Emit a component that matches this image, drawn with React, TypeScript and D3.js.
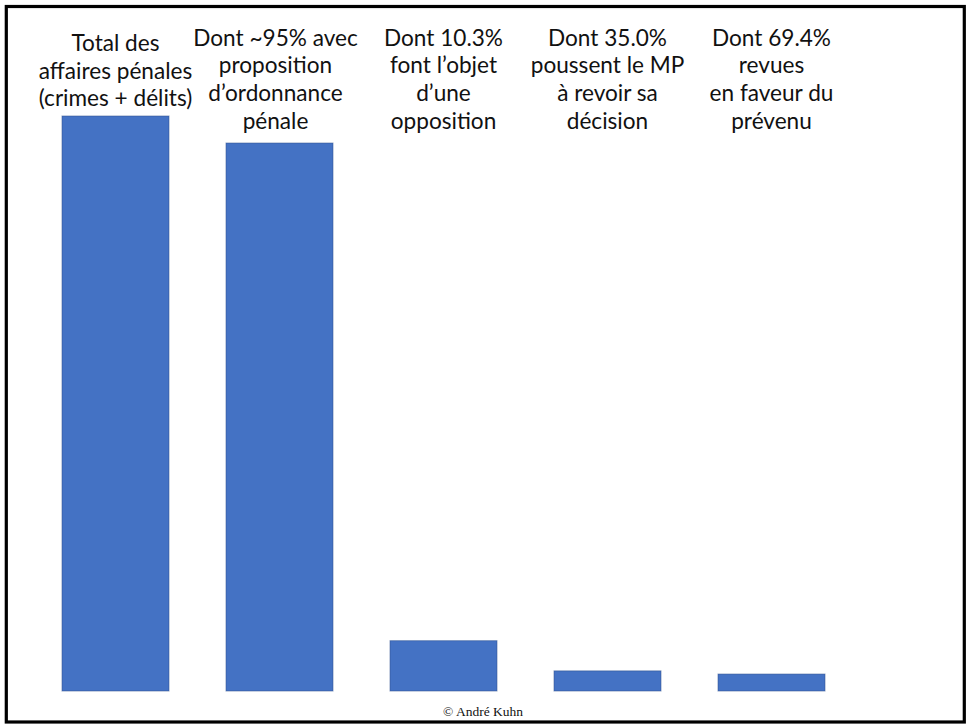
import React from "react";
import * as d3 from "d3";

// Successive filters of criminal cases (relative scale, total = 100)
const categories = ["total", "ordonnance", "opposition", "revision", "faveur"];
const values = [100, 95.3, 8.75, 3.5, 2.95];
const labels: string[][] = [
  ["Total des", "affaires pénales", "(crimes + délits)"],
  ["Dont ~95% avec", "proposition", "d’ordonnance", "pénale"],
  ["Dont 10.3%", "font l’objet", "d’une", "opposition"],
  ["Dont 35.0%", "poussent le MP", "à revoir sa", "décision"],
  ["Dont 69.4%", "revues", "en faveur du", "prévenu"],
];
const credit = "© André Kuhn";

const W = 967;
const H = 725;

export default function App() {
  const x = d3
    .scaleBand<string>()
    .domain(categories)
    .range([62, 825])
    .paddingInner(0.3476)
    .paddingOuter(0);

  const y = d3.scaleLinear().domain([0, 100]).range([691, 116]);

  const lineH = 27.7;
  const firstBaseline = 45.5;

  return (
    <svg
      width={W}
      height={H}
      viewBox={`0 0 ${W} ${H}`}
      style={{ position: "absolute", left: 0, top: 0, background: "#fff" }}
    >
      <rect x={0} y={0} width={W} height={H} fill="#fff" />
      <rect
        x={6.3}
        y={6.5}
        width={958}
        height={715.5}
        fill="none"
        stroke="#000"
        strokeWidth={3.2}
      />
      {categories.map((c, i) => (
        <rect
          key={c}
          x={x(c)}
          y={y(values[i])}
          width={x.bandwidth()}
          height={y(0) - y(values[i])}
          fill="#4472C4"
          stroke="#2F528F"
          strokeOpacity={0.55}
          strokeWidth={1}
        />
      ))}
      {categories.map((c, i) => {
        const cx = (x(c) ?? 0) + x.bandwidth() / 2 - (i === 1 ? 4 : 0);
        const top = firstBaseline + (labels[i].length < 4 ? 5.5 : 0);
        return (
          <text
            key={c}
            textAnchor="middle"
            fontFamily="Lato, 'Open Sans', sans-serif"
            fontSize={22.6}
            fill="#111"
          >
            {labels[i].map((line, j) => (
              <tspan key={j} x={cx} y={top + j * lineH}>
                {line}
              </tspan>
            ))}
          </text>
        );
      })}
      <text
        x={483}
        y={716}
        textAnchor="middle"
        fontFamily="'Liberation Serif', 'DejaVu Serif', serif"
        fontSize={13.5}
        fill="#111"
      >
        {credit}
      </text>
    </svg>
  );
}
